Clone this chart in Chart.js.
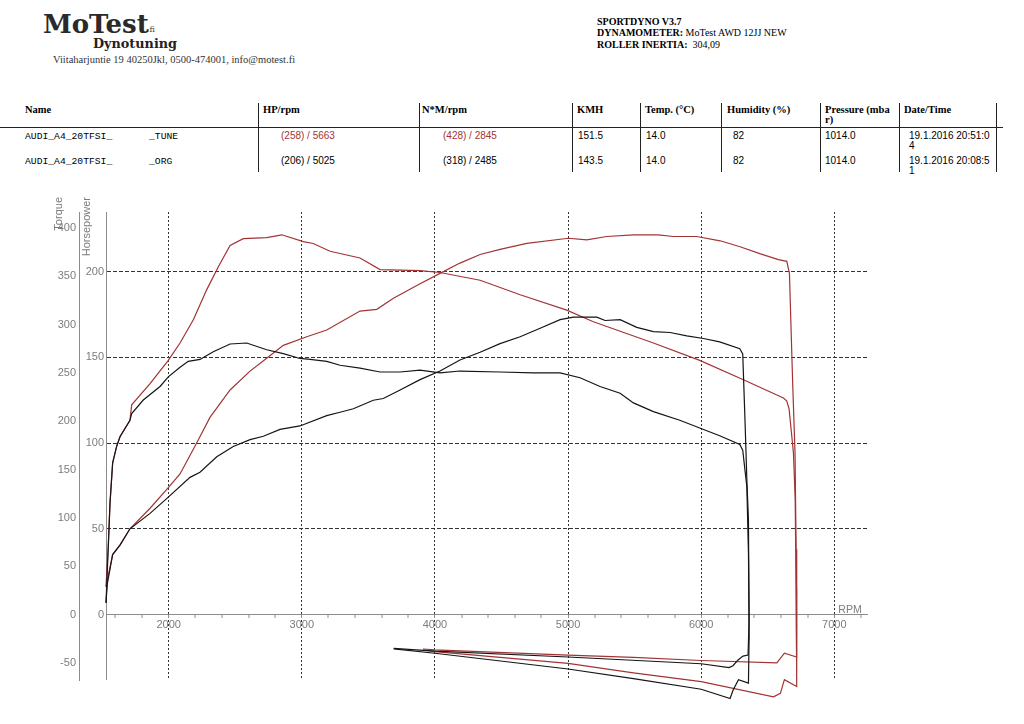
<!DOCTYPE html>
<html>
<head>
<meta charset="utf-8">
<title>MoTest dyno</title>
<script src="https://cdn.jsdelivr.net/npm/chart.js@4.4.1/dist/chart.umd.min.js"></script>
<style>
  html, body { margin: 0; padding: 0; background: #fff; }
  body { position: relative; width: 1024px; height: 724px; overflow: hidden; }
  .t { position: absolute; white-space: nowrap; line-height: 1; color: #000; }
  .rule { position: absolute; background: #222; }
  #chartBox { position: absolute; left: 0; top: 190px; width: 1024px; height: 534px; }
</style>
</head>
<body>
<div id="head"></div>
<div id="chartBox"><canvas id="dyno"></canvas></div>
<script>
// --- run data (rpm / value pairs, pull then coast-down loss) ---
const orgTorqueRpm = [1529, 1546, 1559, 1579, 1609, 1634, 1709, 1722, 1809, 1935, 1997, 2085, 2147, 2235, 2335, 2461, 2586, 2736, 2861, 2986, 3062, 3187, 3287, 3437, 3588, 3738, 3888, 4038, 4188, 4489, 4739, 4940, 5090, 5240, 5391, 5491, 5641, 5839, 5989, 6139, 6290, 6312, 6343, 6355, 6360, 6352, 6314, 6277, 6239, 6209, 6000, 5000, 4000, 3690];
const orgTorqueNm = [12, 70, 115, 157, 174, 184, 201, 208, 222, 236, 246, 256, 262, 264, 272, 280, 281, 274, 270, 265, 264, 262, 258, 255, 251, 251, 253, 250, 252, 251, 250, 250, 245, 236, 229, 219, 210, 201, 193, 185, 176, 170, 132, 64, -6, -42, -43, -47, -53, -55, -51, -44, -38, -35];

const orgHpRpm = [1529, 1539, 1579, 1634, 1709, 1860, 1997, 2160, 2235, 2361, 2485, 2611, 2711, 2836, 2986, 3187, 3287, 3387, 3537, 3612, 3738, 3888, 4038, 4188, 4339, 4489, 4640, 4790, 4940, 5040, 5216, 5278, 5391, 5516, 5641, 5766, 5892, 6017, 6139, 6290, 6312, 6329, 6343, 6355, 6360, 6355, 6280, 6240, 6217, 6000, 5491, 5000, 4000, 3690];
const orgHp = [7, 18, 35, 40.5, 50, 59, 68.5, 80, 83, 92, 98, 102, 104, 108, 110, 116, 118, 120, 125, 126, 131, 137, 142, 148.5, 153, 158, 162, 167, 172, 173.5, 173.5, 171.5, 172, 167.5, 165, 164.5, 162.5, 161, 159, 155, 152, 113.5, 78.5, 55, -13, -40, -38, -44, -49, -43.6, -37.4, -31.8, -22.6, -20.1];

const tuneTorqueRpm = [1529, 1546, 1559, 1579, 1609, 1634, 1709, 1722, 1860, 1997, 2085, 2185, 2285, 2373, 2461, 2560, 2736, 2849, 3011, 3086, 3212, 3437, 3588, 3888, 4038, 4339, 4640, 4990, 5190, 5641, 5989, 6317, 6618, 6643, 6660, 6681, 6693, 6706, 6713, 6718, 6715, 6625, 6568, 6000, 5491, 5000, 4000, 3910];
const tuneTorqueNm = [29, 70, 115, 157, 174, 184, 201, 217, 239, 263, 281, 305, 336, 360, 382, 389, 390, 393, 386, 384, 376, 369, 357, 356, 354, 346, 331, 315, 303, 281, 263, 243, 224, 221, 213, 184, 167, 120, 28, -26, -44, -40, -50, -47.6, -44.3, -42, -36.7, -35.7];

const tuneHpRpm = [1529, 1539, 1579, 1634, 1709, 1860, 1997, 2085, 2210, 2310, 2461, 2611, 2736, 2861, 3037, 3187, 3437, 3563, 3688, 3888, 4038, 4188, 4339, 4489, 4690, 5002, 5140, 5291, 5491, 5678, 5791, 5967, 6142, 6292, 6440, 6580, 6643, 6663, 6673, 6688, 6705, 6713, 6718, 6717, 6625, 6595, 6543, 6000, 5491, 5000, 4000, 3910];
const tuneHp = [16, 20, 35, 40.5, 50, 62, 74, 82, 100, 115, 131, 142, 149.5, 157, 162, 166, 177, 178, 184.5, 193, 199, 205, 210, 213, 216.5, 219.5, 218.5, 220.5, 221.5, 221.5, 220.5, 220.5, 218, 214.5, 210.5, 207, 206, 199, 172, 133, 94, 38, -13, -42, -38, -46, -48, -39.2, -34, -28.5, -21.7, -20.7];

// axis titles
const torqueTitle = 'Torque';
const hpTitle = 'Horsepower';
const rpmTitle = 'RPM';

// result table
const tableHeads = ['Name', 'HP/rpm', 'N*M/rpm', 'KMH', 'Temp. (°C)', 'Humidity (%)', 'Pressure (mba', 'Date/Time'];
const runNames = ['AUDI_A4_20TFSI_', 'AUDI_A4_20TFSI_'];
const runTags = ['_TUNE', '_ORG'];
const runHp = ['(258) / 5663', '(206) / 5025'];
const runNm = ['(428) / 2845', '(318) / 2485'];
const runKmh = ['151.5', '143.5'];
const runTemp = ['14.0', '14.0'];
const runHum = ['82', '82'];
const runPress = ['1014.0', '1014.0'];
const runDate = ['19.1.2016 20:51:0', '19.1.2016 20:08:5'];
const runDateTail = ['4', '1'];

const RED = 'rgb(162,52,52)';
const BLACK = '#151515';
const GREY = '#7c7c7c';
const AXIS = '#8c8c8c';

// --- header (html text) ---
const FONTS = {
  serif: ['"Liberation Serif", "Times New Roman", serif', 0.8375],
  sans: ['"Liberation Sans", Arial, sans-serif', 0.8465],
  mono: ['"Liberation Mono", "Courier New", monospace', 0.7665],
  slab: ['"DejaVu Serif", serif', 0.846]
};
const head = document.getElementById('head');

function put(html, x, base, kind, size, opts = {}) {
  const [family, asc] = FONTS[kind];
  const d = document.createElement('div');
  d.className = 't';
  d.style.left = x + 'px';
  d.style.top = (base - asc * size) + 'px';
  d.style.fontFamily = family;
  d.style.fontSize = size + 'px';
  if (opts.bold) d.style.fontWeight = 'bold';
  if (opts.color) d.style.color = opts.color;
  d.innerHTML = html;
  head.appendChild(d);
}

function rule(x, y, w, h) {
  const d = document.createElement('div');
  d.className = 'rule';
  d.style.left = x + 'px';
  d.style.top = y + 'px';
  d.style.width = w + 'px';
  d.style.height = h + 'px';
  head.appendChild(d);
}

put('MoTest', 43, 33, 'slab', 26, { bold: true, color: '#2a2a2a' });
put('.fi', 147, 33, 'slab', 8, { color: '#444' });
put('Dynotuning', 93, 49, 'slab', 12.8, { bold: true, color: '#222' });
put('Viitaharjuntie 19 40250Jkl, 0500-474001, info@motest.fi', 53, 63.3, 'serif', 10.5, { color: '#333' });

put('<b>SPORTDYNO V3.7</b>', 597, 25, 'serif', 10);
put('<b>DYNAMOMETER:</b> MoTest AWD 12JJ NEW', 597, 36.7, 'serif', 10);
put('<b>ROLLER INERTIA:</b>&nbsp; 304,09', 597, 48.3, 'serif', 10);

const headX = [25, 263, 422, 577, 645, 727, 825, 904];
tableHeads.forEach((h, i) => put(h, headX[i], 114, 'serif', 10.5, { bold: true }));
put('r)', 825, 124, 'serif', 10.5, { bold: true });

[139, 164].forEach((base, r) => {
  const c = r === 0 ? RED : '#000';
  put(runNames[r], 25, base, 'mono', 9.7);
  put(runTags[r], 149, base, 'mono', 9.7);
  put(runHp[r], 281, base, 'sans', 10, { color: c });
  put(runNm[r], 443, base, 'sans', 10, { color: c });
  put(runKmh[r], 578, base, 'sans', 10);
  put(runTemp[r], 646, base, 'sans', 10);
  put(runHum[r], 733, base, 'sans', 10);
  put(runPress[r], 825, base, 'sans', 10);
  put(runDate[r], 909, base, 'sans', 10);
  put(runDateTail[r], 909, base + 10, 'sans', 10);
});

rule(0, 127, 1003, 1);
[258, 419, 572, 640, 721, 820, 899, 996].forEach(x => rule(x, 103, 1, 69));

// --- chart ---
Chart.defaults.font.family = '"Liberation Sans", Arial, sans-serif';

const toPoints = (xs, ys) => xs.map((x, i) => ({ x: x, y: ys[i] }));

function curve(label, xs, ys, axis, color) {
  return {
    label: label,
    data: toPoints(xs, ys),
    yAxisID: axis,
    borderColor: color,
    borderWidth: 1.2,
    pointRadius: 0,
    tension: 0,
    fill: false,
    clip: false
  };
}

// axis names drawn as text next to the scales
const axisNames = {
  id: 'axisNames',
  afterDraw(chart) {
    const ctx = chart.ctx;
    const yT = chart.scales.yT;
    const yH = chart.scales.yH;
    const x = chart.scales.x;
    const top = chart.chartArea.top - 15;
    ctx.save();
    ctx.fillStyle = GREY;
    ctx.font = '11px "Liberation Sans", Arial, sans-serif';
    ctx.textAlign = 'right';
    ctx.textBaseline = 'middle';
    [[torqueTitle, yT.right - 20], [hpTitle, yH.left + 8]].forEach(([txt, px]) => {
      ctx.save();
      ctx.translate(px, top);
      ctx.rotate(-Math.PI / 2);
      ctx.fillText(txt, 0, 0);
      ctx.restore();
    });
    ctx.textAlign = 'left';
    ctx.textBaseline = 'alphabetic';
    ctx.font = '10.5px "Liberation Sans", Arial, sans-serif';
    ctx.fillText(rpmTitle, x.getPixelForValue(7000) + 4, yH.getPixelForValue(0) - 2);
    ctx.restore();
  }
};

new Chart(document.getElementById('dyno'), {
  type: 'line',
  data: {
    datasets: [
      curve('ORG torque', orgTorqueRpm, orgTorqueNm, 'yT', BLACK),
      curve('ORG hp', orgHpRpm, orgHp, 'yH', BLACK),
      curve('TUNE torque', tuneTorqueRpm, tuneTorqueNm, 'yT', RED),
      curve('TUNE hp', tuneHpRpm, tuneHp, 'yH', RED)
    ]
  },
  options: {
    responsive: true,
    maintainAspectRatio: false,
    animation: false,
    layout: { padding: { top: 22, right: 156, bottom: 44, left: 0 } },
    plugins: {
      legend: { display: false },
      tooltip: { enabled: false }
    },
    scales: {
      yT: {
        type: 'linear',
        position: 'left',
        weight: 2,
        min: -67.8,
        max: 416.6,
        afterFit(s) { s.width = 79; s.paddingTop = 0; s.paddingBottom = 0; },
        grid: { display: false, drawTicks: false },
        border: { color: AXIS },
        ticks: { stepSize: 50, includeBounds: false, padding: 3, color: GREY, font: { size: 11 } }
      },
      yH: {
        type: 'linear',
        position: 'left',
        weight: 1,
        min: -38.2,
        max: 234.8,
        afterFit(s) { s.width = 27; s.paddingTop = 0; s.paddingBottom = 0; },
        grid: {
          color: '#333',
          lineWidth: c => (c.tick && c.tick.value !== 0) ? 1 : 0,
          drawTicks: false
        },
        border: { color: AXIS, dash: [4, 2] },
        ticks: { stepSize: 50, includeBounds: false, padding: 2, color: GREY, font: { size: 11 } }
      },
      x: {
        type: 'linear',
        position: { yH: 0 },
        min: 1529,
        max: 7253,
        afterFit(s) { s.paddingLeft = 0; s.paddingRight = 0; },
        grid: {
          color: '#333',
          lineWidth: c => (c.tick && c.tick.value % 1000 === 0) ? 1 : 0,
          tickColor: AXIS,
          tickWidth: 1,
          tickLength: 3
        },
        border: { color: AXIS, dash: [2, 2] },
        ticks: {
          stepSize: 200,
          includeBounds: false,
          autoSkip: false,
          maxRotation: 0,
          padding: 1,
          color: GREY,
          font: { size: 11 },
          callback: v => (v % 1000 === 0 ? String(v) : '')
        }
      }
    }
  },
  plugins: [axisNames]
});
</script>
</body>
</html>
